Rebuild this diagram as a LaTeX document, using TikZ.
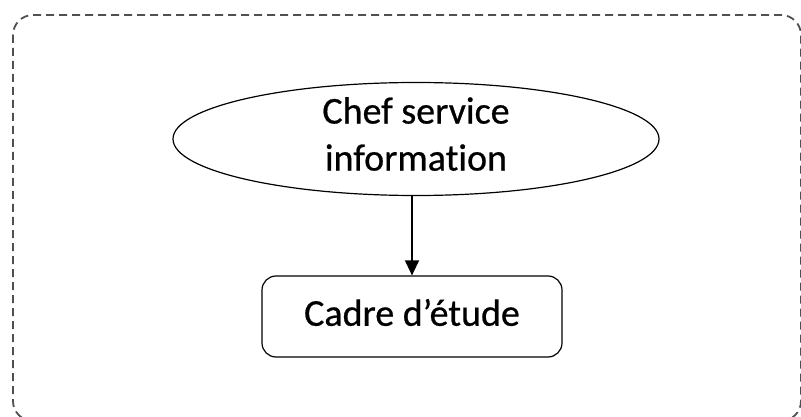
\documentclass[tikz,border=0pt]{standalone}
\usepackage{fontspec}
\setmainfont[Ligatures=NoCommon,FakeBold=0.6]{Carlito}
\usetikzlibrary{shapes.geometric,arrows.meta}
\definecolor{framegray}{HTML}{505050}
\tikzset{
  frame/.style={draw=framegray, line width=1.8pt, dash pattern=on 8pt off 5pt, rounded corners=20pt},
  txt/.style={align=center, inner sep=0pt, font=\fontsize{38}{47}\selectfont},
  ellbox/.style={draw, line width=1.2pt, ellipse, minimum width=486pt, minimum height=113pt, inner sep=0pt},
  rbox/.style={draw, line width=1.2pt, rounded corners=14pt, minimum width=300pt, minimum height=81pt, inner sep=0pt},
  link/.style={line width=1.2pt, -{Triangle[length=15pt,width=14pt]}}
}
\begin{document}
\begin{tikzpicture}[x=1pt,y=-1pt]
\useasboundingbox (0,0) rectangle (801,417);
\begin{scope}
  \clip (0,0) rectangle (801,417);
  \draw[frame] (13,15) rectangle (801,421);
\end{scope}
\node[ellbox, label={[txt, yshift=5pt]center:Chef service\\information}] (chef) at (416,139) {};
\node[rbox, label={[txt, yshift=4pt]center:Cadre d’étude}] (cadre) at (412,316.5) {};
\draw[link] (cadre.north |- chef.south) -- (cadre.north);
\end{tikzpicture}
\end{document}
